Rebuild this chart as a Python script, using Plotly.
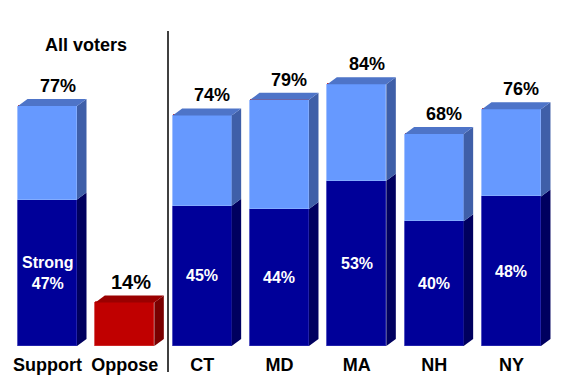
import plotly.graph_objects as go

categories = ["Support", "Oppose", "CT", "MD", "MA", "NH", "NY"]
total = [77, 14, 74, 79, 84, 68, 76]
strong = [47, None, 45, 44, 53, 40, 48]
inner_labels = ["Strong<br>47%", None, "45%", "44%", "53%", "40%", "48%"]
top_labels = ["77%", "14%", "74%", "79%", "84%", "68%", "76%"]

FONT = "Arial, 'Liberation Sans', sans-serif"
W, H = 568, 382
PX_PER_UNIT_X = 77.33
PX_PER_PCT = 3.116
BASE_PX = 346
X0_PX = 47.5
BAR_W = 59 / PX_PER_UNIT_X
DX = 9.5 / PX_PER_UNIT_X
DY = 7 / PX_PER_PCT

LIGHT = "#6699FF"
LIGHT_SIDE = "#3F5FA8"
LIGHT_TOP = "#4E74C8"
DARK = "#000099"
DARK_SIDE = "#00005F"
RED = "#C00000"
RED_SIDE = "#7A0000"
RED_TOP = "#9A0000"

xs = list(range(len(categories)))
is_oppose = [c == "Oppose" for c in categories]
strong_vals = [s if s is not None else 0 for s in strong]
light_vals = [t - s if not o else 0 for t, s, o in zip(total, strong_vals, is_oppose)]
red_vals = [t if o else 0 for t, o in zip(total, is_oppose)]

fig = go.Figure()
fig.add_trace(go.Bar(x=xs, y=strong_vals, width=BAR_W, marker=dict(color=DARK, line=dict(width=0.8, color="#2A2AB0")), hoverinfo="skip"))
fig.add_trace(go.Bar(x=xs, y=light_vals, width=BAR_W, marker=dict(color=LIGHT, line=dict(width=0.8, color="#8AB0FF")), hoverinfo="skip"))
fig.add_trace(go.Bar(x=xs, y=red_vals, width=BAR_W, marker=dict(color=RED, line=dict(width=0.8, color="#D03030")), hoverinfo="skip"))


def poly(pts_list):
    px, py = [], []
    for pts in pts_list:
        for a, b in pts:
            px.append(a)
            py.append(b)
        px.append(pts[0][0])
        py.append(pts[0][1])
        px.append(None)
        py.append(None)
    return px, py


dark_side, light_side, light_top, red_side, red_top = [], [], [], [], []
for i, (t, s, o) in enumerate(zip(total, strong_vals, is_oppose)):
    xl = i - BAR_W / 2
    xr = i + BAR_W / 2
    if o:
        red_side.append([(xr, 0), (xr + DX, DY), (xr + DX, t + DY), (xr, t)])
        red_top.append([(xl, t), (xl + DX, t + DY), (xr + DX, t + DY), (xr, t)])
    else:
        dark_side.append([(xr, 0), (xr + DX, DY), (xr + DX, s + DY), (xr, s)])
        light_side.append([(xr, s), (xr + DX, s + DY), (xr + DX, t + DY), (xr, t)])
        light_top.append([(xl, t), (xl + DX, t + DY), (xr + DX, t + DY), (xr, t)])

for pts, col in [(dark_side, DARK_SIDE), (light_side, LIGHT_SIDE), (light_top, LIGHT_TOP),
                 (red_side, RED_SIDE), (red_top, RED_TOP)]:
    px, py = poly(pts)
    fig.add_trace(go.Scatter(x=px, y=py, mode="lines", fill="toself", fillcolor=col,
                             line=dict(width=0, color=col), hoverinfo="skip"))

annotations = []
for i, (t, lab, o) in enumerate(zip(total, top_labels, is_oppose)):
    annotations.append(dict(
        x=i, y=t + DY, xref="x", yref="y", text="<b>%s</b>" % lab,
        showarrow=False, xshift=10 if not o else 6, yshift=13, yanchor="middle", xanchor="center",
        font=dict(family=FONT, size=18 if not o else 20, color="black")))
for i, (s, lab) in enumerate(zip(strong, inner_labels)):
    if lab is None:
        continue
    annotations.append(dict(
        x=i, y=s / 2, xref="x", yref="y", text="<b>%s</b>" % lab, showarrow=False,
        yanchor="middle", xanchor="center", font=dict(family=FONT, size=16, color="white")))
annotations.append(dict(
    x=85.5 / W, y=(BASE_PX - 45) / BASE_PX, xref="paper", yref="paper",
    text="<b>All voters</b>", showarrow=False, yanchor="middle", xanchor="center",
    font=dict(family=FONT, size=18, color="black")))

sep_x = (168 - X0_PX) / PX_PER_UNIT_X
fig.add_shape(type="line", xref="x", yref="paper", x0=sep_x, x1=sep_x,
              y0=(BASE_PX - 372) / BASE_PX, y1=(BASE_PX - 31) / BASE_PX,
              line=dict(color="black", width=1.5))

fig.update_layout(
    width=W, height=H, barmode="stack", showlegend=False,
    margin=dict(l=0, r=0, t=0, b=H - BASE_PX),
    plot_bgcolor="white", paper_bgcolor="white",
    bargap=0,
    annotations=annotations,
    xaxis=dict(range=[-X0_PX / PX_PER_UNIT_X, (W - X0_PX) / PX_PER_UNIT_X],
               tickvals=xs, ticktext=["<b>%s</b>" % c for c in categories],
               tickfont=dict(family=FONT, size=18, color="black"),
               showgrid=False, zeroline=False, showline=False, ticks="",
               ticklabelstandoff=6, fixedrange=True),
    yaxis=dict(range=[0, BASE_PX / PX_PER_PCT], visible=False, fixedrange=True),
)

fig.write_html("out.html", config={"displayModeBar": False},
               post_script="document.body.style.margin='0';document.body.style.overflow='hidden';")
